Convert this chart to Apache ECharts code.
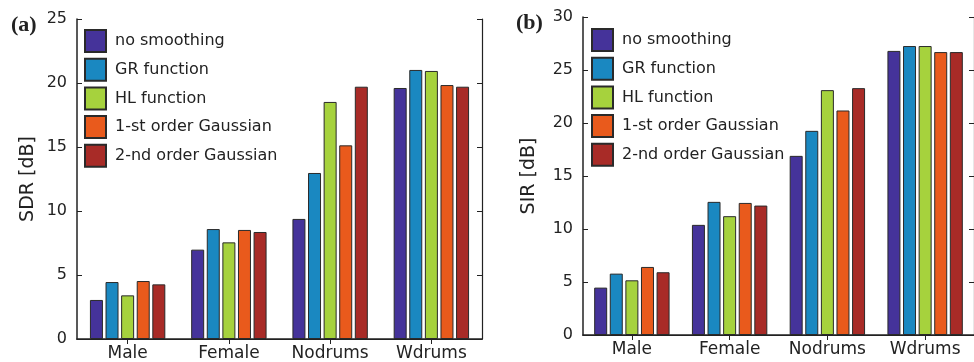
<!DOCTYPE html>
<html>
<head>
<meta charset="utf-8">
<script src="https://cdn.jsdelivr.net/npm/echarts@6/dist/echarts.min.js"></script>
<style>
html,body{margin:0;padding:0;background:#fff;}
#c{width:974px;height:362px;}
</style>
</head>
<body>
<div id="c"></div>
<script>
const categories = ['Male', 'Female', 'Nodrums', 'Wdrums'];
const seriesNames = ['no smoothing', 'GR function', 'HL function', '1-st order Gaussian', '2-nd order Gaussian'];
const colors = ['#45339A', '#1A88C1', '#A6D23D', '#E95A1C', '#A82B27'];

// SDR [dB] values, panel (a)
const sdrNoSmoothing = [3.05, 6.98, 9.38, 19.61];
const sdrGR = [4.45, 8.59, 12.97, 21.02];
const sdrHL = [3.41, 7.55, 18.52, 20.94];
const sdrGauss1 = [4.53, 8.52, 15.13, 19.84];
const sdrGauss2 = [4.27, 8.36, 19.71, 19.71];

// SIR [dB] values, panel (b)
const sirNoSmoothing = [4.47, 10.39, 16.9, 26.8];
const sirGR = [5.79, 12.56, 19.26, 27.26];
const sirHL = [5.16, 11.21, 23.1, 27.26];
const sirGauss1 = [6.42, 12.46, 21.18, 26.69];
const sirGauss2 = [5.92, 12.21, 23.29, 26.69];

const sdrTicks = [0, 5, 10, 15, 20, 25];
const sirTicks = [0, 5, 10, 15, 20, 25, 30];

const sdrData = [sdrNoSmoothing, sdrGR, sdrHL, sdrGauss1, sdrGauss2];
const sirData = [sirNoSmoothing, sirGR, sirHL, sirGauss1, sirGauss2];

const FONT = 'DejaVu Sans, sans-serif';
const AX = '#222';

function xAxes(gi) {
  return [
    {
      type: 'category', gridIndex: gi, data: categories, position: 'bottom',
      axisLine: {lineStyle: {color: AX, width: 1.5}},
      axisTick: {show: false},
      axisLabel: {color: '#222', fontSize: 17, fontFamily: FONT, margin: 6, interval: 0, hideOverlap: false}
    },
    {
      type: 'category', gridIndex: gi, data: categories, position: 'top',
      axisLine: {lineStyle: {color: AX, width: 1.2}},
      axisTick: {show: true, inside: true, alignWithLabel: true, interval: 0, length: 5, lineStyle: {color: AX}},
      axisLabel: {show: false}
    }
  ];
}
function yAxes(gi, ticks, name, gap) {
  const mx = ticks[ticks.length - 1];
  const iv = ticks[1] - ticks[0];
  return [
    {
      type: 'value', gridIndex: gi, min: ticks[0], max: mx, interval: iv, position: 'left',
      name: name, nameLocation: 'middle', nameGap: gap,
      nameTextStyle: {color: '#222', fontSize: 19, fontFamily: FONT},
      axisLine: {show: true, lineStyle: {color: AX, width: 1.5}},
      axisTick: {show: true, inside: true, length: 5, lineStyle: {color: AX}},
      axisLabel: {color: '#222', fontSize: 16, fontFamily: FONT, margin: 10},
      splitLine: {show: false}
    },
    {
      type: 'value', gridIndex: gi, min: ticks[0], max: mx, interval: iv, position: 'right',
      axisLine: {show: true, lineStyle: {color: AX, width: 1.2}},
      axisTick: {show: true, inside: true, length: 5, lineStyle: {color: AX}},
      axisLabel: {show: false},
      splitLine: {show: false}
    }
  ];
}

const series = [];
[sdrData, sirData].forEach((set, gi) => {
  set.forEach((vals, si) => {
    series.push({
      type: 'bar', name: seriesNames[si],
      xAxisIndex: gi * 2, yAxisIndex: gi * 2,
      data: vals, barWidth: 13, barGap: '20%',
      itemStyle: {color: colors[si], borderColor: '#2a2a2a', borderWidth: 1},
      emphasis: {disabled: true}, animation: false
    });
  });
});

function legend(left, top) {
  return {
    orient: 'vertical', left: left, top: top, padding: 0,
    itemWidth: 21, itemHeight: 22, itemGap: 4.7,
    icon: 'rect', selectedMode: false,
    textStyle: {color: '#222', fontSize: 16, lineHeight: 22, fontFamily: FONT, padding: [0, 0, 0, 4]},
    data: seriesNames
  };
}

const chart = echarts.init(document.getElementById('c'), null, {renderer: 'canvas'});
chart.setOption({
  backgroundColor: '#fff',
  animation: false,
  title: [
    {text: '(a)', left: 6, top: 9, textStyle: {fontFamily: 'Liberation Serif, Times New Roman, serif', fontWeight: 'bold', fontSize: 22, color: '#222'}},
    {text: '(b)', left: 511, top: 7, textStyle: {fontFamily: 'Liberation Serif, Times New Roman, serif', fontWeight: 'bold', fontSize: 22, color: '#222'}}
  ],
  grid: [
    {left: 77, top: 19, width: 405, height: 320, containLabel: false},
    {left: 583, top: 17, width: 402, height: 318, containLabel: false}
  ],
  legend: [legend(84, 29), legend(591, 28)],
  xAxis: [...xAxes(0), ...xAxes(1)],
  yAxis: [...yAxes(0, sdrTicks, 'SDR [dB]', 39), ...yAxes(1, sirTicks, 'SIR [dB]', 44)],
  series: series
});
</script>
</body>
</html>
